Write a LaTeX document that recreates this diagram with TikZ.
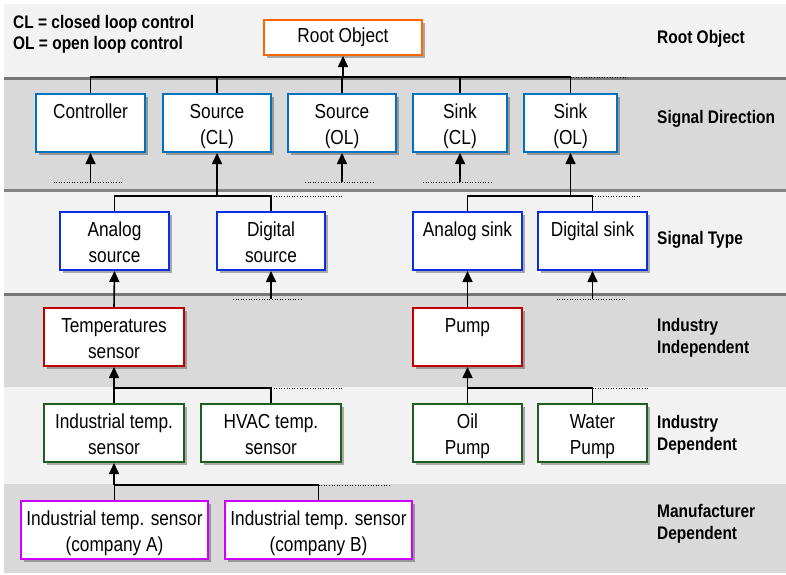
\documentclass[tikz,border=0pt]{standalone}
\usepackage{fontspec}
\setmainfont{Liberation Sans}[FakeStretch=0.85]
\usetikzlibrary{arrows.meta,shadows}
\definecolor{bandlight}{HTML}{F2F2F2}
\definecolor{banddark}{HTML}{D9D9D9}
\definecolor{corange}{HTML}{FF6600}
\definecolor{cblue}{HTML}{0070C0}
\definecolor{cbluetwo}{HTML}{0A2FE0}
\definecolor{cred}{HTML}{C00000}
\definecolor{cgreen}{HTML}{1E5E1E}
\definecolor{cmag}{HTML}{CC00FF}
\begin{document}
\begin{tikzpicture}[x=1pt,y=-1pt,
  box/.style={draw, line width=2pt, fill=white, inner sep=0pt, minimum height=58pt,
    align=center, font=\fontsize{20.3}{25.5}\selectfont, text height=47pt, text depth=5pt,
    drop shadow={shadow xshift=3pt, shadow yshift=-3pt, opacity=0.3, fill=black}},
  lvl/.style={anchor=base west, align=left, inner sep=0pt, font=\bfseries\fontsize{18.2}{22}\selectfont},
  bandshadow/.style={drop shadow={shadow xshift=0pt, shadow yshift=-3pt, opacity=0.45, fill=black}},
  conn/.style={line width=1.6pt},
  arr/.style={line width=1.6pt, -{Triangle[width=10pt,length=11pt]}},
  dots/.style={line width=1pt, dash pattern=on 1pt off 1.6pt},
]
\useasboundingbox (0,0) rectangle (786,574);
\fill[white] (0,0) rectangle (786,574);
% bands (bottom first)
\fill[banddark] (4,484) rectangle (786,573);
\fill[bandlight] (4,387) rectangle (786,484);
\fill[banddark] (4,293) rectangle (786,387);
\fill[bandlight, bandshadow] (4,189) rectangle (786,293);
\fill[banddark, bandshadow] (4,77) rectangle (786,189);
\fill[bandlight, bandshadow] (4,4) rectangle (786,77);

% legend and level labels (anchored at the baseline of the last line)
\node[lvl, font=\bfseries\fontsize{18.2}{21}\selectfont] (legend) at (13,49.3) {CL = closed loop control\\OL = open loop control};
\node[lvl] (l1) at (657,43) {Root Object};
\node[lvl] (l2) at (657,123) {Signal Direction};
\node[lvl] (l3) at (657,244) {Signal Type};
\node[lvl] (l4) at (657,353.3) {Industry\\Independent};
\node[lvl] (l5) at (657,450) {Industry\\Dependent};
\node[lvl] (l6) at (657,539) {Manufacturer\\Dependent};

% boxes
\node[box, draw=corange, minimum width=158pt, minimum height=35pt, text height=14pt, text depth=5pt] (root) at (343,37.5) {Root Object};

\node[box, draw=cblue, minimum width=109pt] (ctrl) at (90.5,123) {Controller\\\strut};
\node[box, draw=cblue, minimum width=108pt] (srccl) at (217,123) {Source\\(CL)};
\node[box, draw=cblue, minimum width=108pt] (srcol) at (342,123) {Source\\(OL)};
\node[box, draw=cblue, minimum width=94pt] (sinkcl) at (460,123) {Sink\\(CL)};
\node[box, draw=cblue, minimum width=93pt] (sinkol) at (570.5,123) {Sink\\(OL)};

\node[box, draw=cbluetwo, minimum width=109pt] (asrc) at (114.5,241) {Analog\\source};
\node[box, draw=cbluetwo, minimum width=108pt] (dsrc) at (271,241) {Digital\\source};
\node[box, draw=cbluetwo, minimum width=109pt] (asink) at (467.5,241) {Analog sink\\\strut};
\node[box, draw=cbluetwo, minimum width=109pt] (dsink) at (592.5,241) {Digital sink\\\strut};

\node[box, draw=cred, minimum width=140pt] (temp) at (114,337) {Temperatures\\sensor};
\node[box, draw=cred, minimum width=109pt] (pump) at (467.5,337) {Pump\\\strut};

\node[box, draw=cgreen, minimum width=140pt] (indt) at (114,433) {Industrial temp.\\sensor};
\node[box, draw=cgreen, minimum width=140pt] (hvac) at (271,433) {HVAC temp.\\sensor};
\node[box, draw=cgreen, minimum width=109pt] (oil) at (467.5,433) {Oil\\Pump};
\node[box, draw=cgreen, minimum width=109pt] (water) at (592.5,433) {Water\\Pump};

\node[box, draw=cmag, minimum width=187pt] (compa) at (114.5,530) {Industrial temp. sensor\\(company A)};
\node[box, draw=cmag, minimum width=187pt] (compb) at (318.5,530) {Industrial temp. sensor\\(company B)};

% bus coordinates
\coordinate (bA) at (0,77);
\coordinate (bB) at (0,196);
\coordinate (bC) at (0,388);
\coordinate (bD) at (0,485);
\coordinate (fA) at (0,182);
\coordinate (fB) at (0,299);

% root level bus
\draw[conn] (ctrl.north) -- (ctrl.north |- bA) -- (sinkol.north |- bA) -- (sinkol.north);
\draw[conn] (srccl.north) -- (srccl.north |- bA);
\draw[conn] (srcol.north) -- (srcol.north |- bA);
\draw[conn] (sinkcl.north) -- (sinkcl.north |- bA);
\draw[arr] (root.south |- bA) -- (root.south);
\draw[dots] (sinkol.north |- bA) -- ++(55,0);

% free inputs of signal direction
\draw[arr] (ctrl.south |- fA) -- (ctrl.south);
\draw[dots] ([xshift=-37pt]ctrl.south |- fA) -- ([xshift=33pt]ctrl.south |- fA);
\draw[arr] (srcol.south |- fA) -- (srcol.south);
\draw[dots] ([xshift=-37pt]srcol.south |- fA) -- ([xshift=31pt]srcol.south |- fA);
\draw[arr] (sinkcl.south |- fA) -- (sinkcl.south);
\draw[dots] ([xshift=-37pt]sinkcl.south |- fA) -- ([xshift=32pt]sinkcl.south |- fA);

% signal type buses
\draw[conn] (asrc.north) -- (asrc.north |- bB) -- (dsrc.north |- bB) -- (dsrc.north);
\draw[arr] (srccl.south |- bB) -- (srccl.south);
\draw[dots] (dsrc.north |- bB) -- ++(72,0);
\draw[conn] (asink.north) -- (asink.north |- bB) -- (dsink.north |- bB) -- (dsink.north);
\draw[arr] (sinkol.south |- bB) -- (sinkol.south);
\draw[dots] (dsink.north |- bB) -- ++(48,0);

% free inputs of signal type
\draw[arr] (dsrc.south |- fB) -- (dsrc.south);
\draw[dots] ([xshift=-38pt]dsrc.south |- fB) -- ([xshift=32pt]dsrc.south |- fB);
\draw[arr] (dsink.south |- fB) -- (dsink.south);
\draw[dots] ([xshift=-36pt]dsink.south |- fB) -- ([xshift=33pt]dsink.south |- fB);

% industry independent
\draw[arr] (temp.north) -- (asrc.south);
\draw[arr] (pump.north) -- (asink.south);

% industry dependent buses
\draw[conn] (indt.north) -- (indt.north |- bC) -- (hvac.north |- bC) -- (hvac.north);
\draw[arr] (temp.south |- bC) -- (temp.south);
\draw[dots] (hvac.north |- bC) -- ++(72,0);
\draw[conn] (oil.north) -- (oil.north |- bC) -- (water.north |- bC) -- (water.north);
\draw[arr] (pump.south |- bC) -- (pump.south);
\draw[dots] (water.north |- bC) -- ++(56,0);

% manufacturer bus
\draw[conn] (compa.north) -- (compa.north |- bD) -- (compb.north |- bD) -- (compb.north);
\draw[arr] (indt.south |- bD) -- (indt.south);
\draw[dots] (compb.north |- bD) -- ++(72,0);
\end{tikzpicture}
\end{document}
